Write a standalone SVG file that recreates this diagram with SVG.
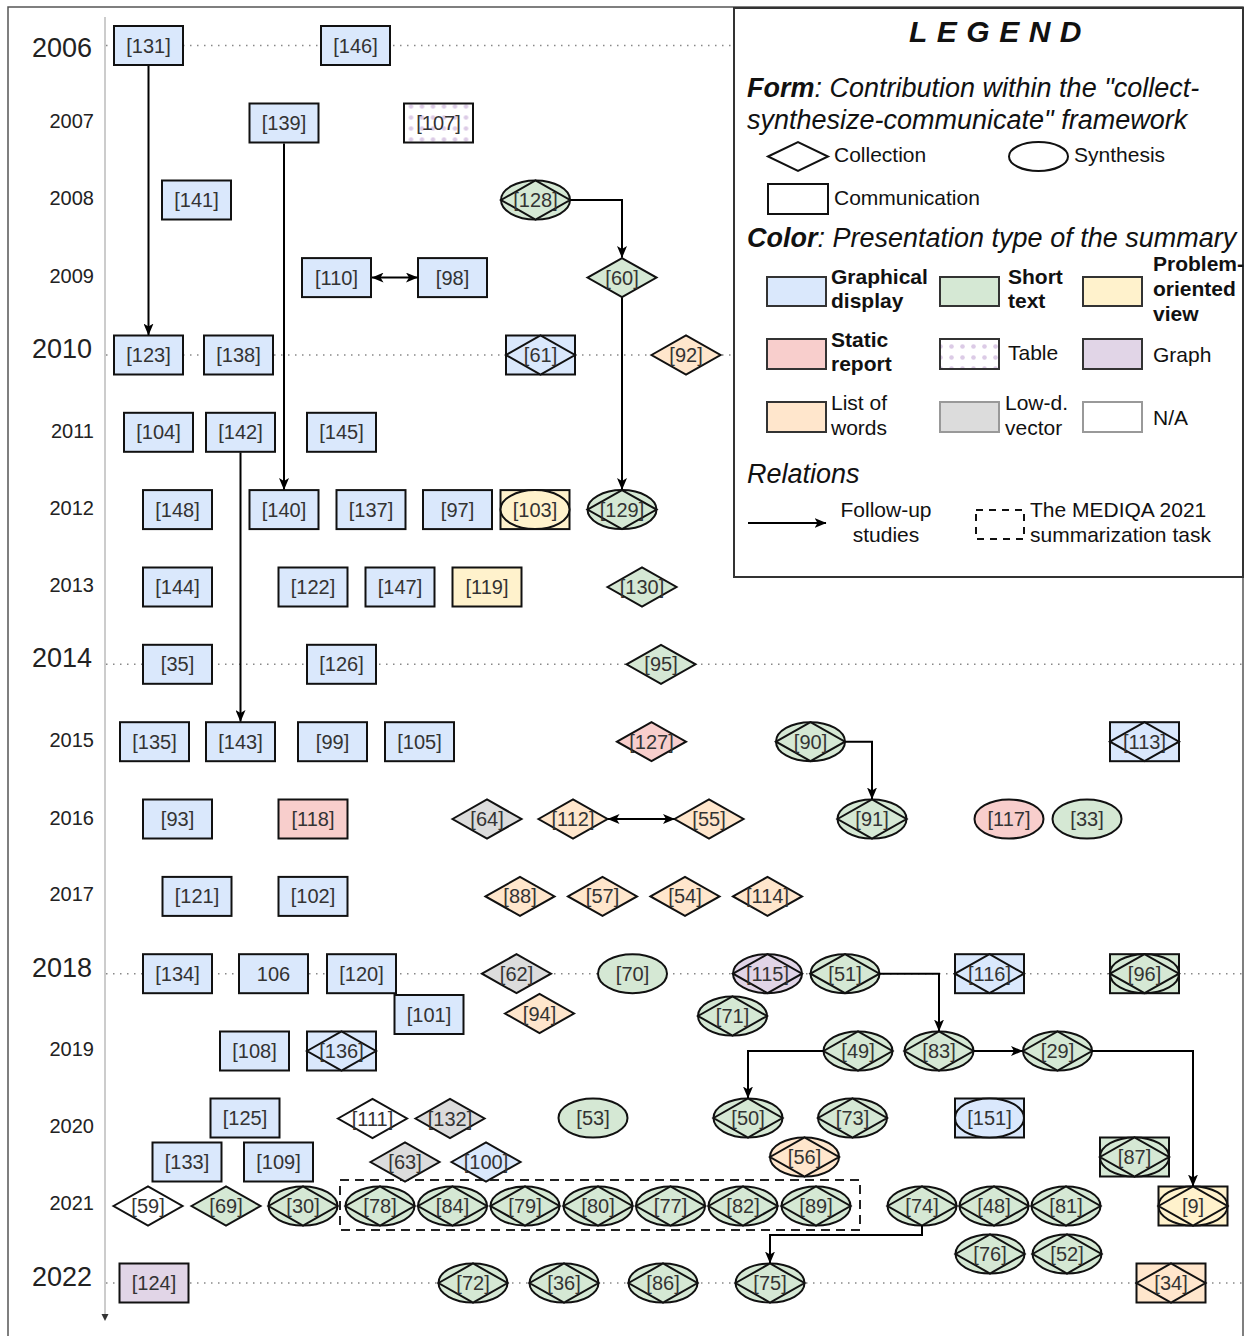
<svg xmlns="http://www.w3.org/2000/svg" width="1246" height="1336" viewBox="0 0 1246 1336">
<style>
.nd use{stroke:#111;stroke-width:2}
.nd text{font-family:"Liberation Sans",Arial,sans-serif;font-size:20px;fill:#333;text-anchor:middle;dominant-baseline:central}
.bl{fill:#dae8fc}.gr{fill:#d5e8d4}.ye{fill:#fff2cc}.rd{fill:#f8cecc}.pu{fill:#e1d5e7}.or{fill:#ffe6cc}.gy{fill:#dcdcdc}.wh{fill:#fff}.tb{fill:url(#dots)}
.yr{font-family:"Liberation Sans",Arial,sans-serif;fill:#222;text-anchor:end;dominant-baseline:central}
.big{font-size:27px}.sm{font-size:20px}
.dot{stroke:#888;stroke-width:1.5;stroke-dasharray:1.5 5.5;fill:none}
.cn{stroke:#000;stroke-width:2;fill:none}
.lg{font-family:"Liberation Sans",Arial,sans-serif;fill:#111;font-size:21px}
.lgb{font-weight:bold}
.lgi{font-style:italic;font-size:27px}
.lgt{font-size:30px;font-weight:bold;font-style:italic;letter-spacing:9.5px}
.sw{stroke:#333;stroke-width:2}
.swl{stroke:#999;stroke-width:2}
</style>
<defs>
<pattern id="dots" width="11" height="11" patternUnits="userSpaceOnUse">
<rect width="11" height="11" fill="#fff"/>
<circle cx="5.5" cy="5.5" r="2.3" fill="#dccbe6"/>
</pattern>
<rect id="R" x="-34.5" y="-19.5" width="69" height="39"/>
<ellipse id="E" cx="0" cy="0" rx="34.5" ry="19.5"/>
<path id="D" d="M-34.5 0 L0 -19.5 L34.5 0 L0 19.5 Z"/>
<marker id="arr" viewBox="0 0 12 10" refX="11.5" refY="5" markerWidth="12" markerHeight="10" markerUnits="userSpaceOnUse" orient="auto-start-reverse">
<path d="M0,0 L12,5 L0,10 L3,5 Z" fill="#000"/>
</marker>
</defs>
<rect x="0" y="0" width="1246" height="1336" fill="#fff"/>
<rect x="8" y="7" width="1235" height="1345" fill="none" stroke="#555" stroke-width="1.5"/>

<g id="axis">
<line x1="105" y1="17" x2="105" y2="1316" stroke="#bbb" stroke-width="1.5"/>
<path d="M101.5,1314 L105,1321 L108.5,1314 Z" fill="#333"/>
<text class="yr big" x="92" y="48">2006</text>
<text class="yr sm" x="94" y="121">2007</text>
<text class="yr sm" x="94" y="198">2008</text>
<text class="yr sm" x="94" y="276">2009</text>
<text class="yr big" x="92" y="349">2010</text>
<text class="yr sm" x="94" y="431">2011</text>
<text class="yr sm" x="94" y="508">2012</text>
<text class="yr sm" x="94" y="585">2013</text>
<text class="yr big" x="92" y="658">2014</text>
<text class="yr sm" x="94" y="740">2015</text>
<text class="yr sm" x="94" y="818">2016</text>
<text class="yr sm" x="94" y="894">2017</text>
<text class="yr big" x="92" y="968">2018</text>
<text class="yr sm" x="94" y="1049">2019</text>
<text class="yr sm" x="94" y="1126">2020</text>
<text class="yr sm" x="94" y="1203">2021</text>
<text class="yr big" x="92" y="1277">2022</text>
<line class="dot" x1="106" y1="45.5" x2="733" y2="45.5"/>
<line class="dot" x1="106" y1="355" x2="733" y2="355"/>
<line class="dot" x1="106" y1="664.3" x2="1243" y2="664.3"/>
<line class="dot" x1="106" y1="973.7" x2="1243" y2="973.7"/>
<line class="dot" x1="106" y1="1283" x2="1243" y2="1283"/>
</g>

<g id="legend">
<rect x="734" y="8" width="509" height="569" fill="#fff" stroke="#333" stroke-width="2"/>
<text class="lg lgt" x="909" y="42">LEGEND</text>
<text class="lg lgi" x="747" y="97"><tspan font-weight="bold">Form</tspan>: Contribution within the "collect-</text>
<text class="lg lgi" x="747" y="129">synthesize-communicate" framework</text>
<path d="M768,156.5 L798,142 L828,156.5 L798,171 Z" fill="#fff" stroke="#111" stroke-width="2"/>
<text class="lg" x="834" y="162">Collection</text>
<ellipse cx="1038.5" cy="156.5" rx="29.5" ry="14.5" fill="#fff" stroke="#111" stroke-width="2"/>
<text class="lg" x="1074" y="162">Synthesis</text>
<rect x="768" y="184" width="60" height="30" fill="#fff" stroke="#111" stroke-width="2"/>
<text class="lg" x="834" y="205">Communication</text>
<text class="lg lgi" x="747" y="247"><tspan font-weight="bold">Color</tspan>: Presentation type of the summary</text>
<rect class="sw" x="767" y="277" width="59" height="29" fill="#dae8fc"/>
<text class="lg lgb" x="831" y="284">Graphical</text>
<text class="lg lgb" x="831" y="308">display</text>
<rect class="sw" x="940" y="277" width="59" height="29" fill="#d5e8d4"/>
<text class="lg lgb" x="1008" y="284">Short</text>
<text class="lg lgb" x="1008" y="308">text</text>
<rect class="sw" x="1083" y="277" width="59" height="29" fill="#fff2cc"/>
<text class="lg lgb" x="1153" y="271">Problem-</text>
<text class="lg lgb" x="1153" y="296">oriented</text>
<text class="lg lgb" x="1153" y="321">view</text>
<rect class="sw" x="767" y="339" width="59" height="30" fill="#f8cecc"/>
<text class="lg lgb" x="831" y="347">Static</text>
<text class="lg lgb" x="831" y="371">report</text>
<rect class="sw" x="940" y="339" width="59" height="30" fill="url(#dots)"/>
<text class="lg" x="1008" y="360">Table</text>
<rect class="sw" x="1083" y="339" width="59" height="30" fill="#e1d5e7"/>
<text class="lg" x="1153" y="362">Graph</text>
<rect class="sw" x="767" y="402" width="59" height="30" fill="#ffe6cc"/>
<text class="lg" x="831" y="410">List of</text>
<text class="lg" x="831" y="435">words</text>
<rect class="swl" x="940" y="402" width="59" height="30" fill="#dcdcdc"/>
<text class="lg" x="1005" y="410">Low-d.</text>
<text class="lg" x="1005" y="435">vector</text>
<rect class="swl" x="1083" y="402" width="59" height="30" fill="#fff"/>
<text class="lg" x="1153" y="425">N/A</text>
<text class="lg lgi" x="747" y="483">Relations</text>
<path class="cn" d="M748,523 H826" marker-end="url(#arr)"/>
<text class="lg" x="886" y="517" text-anchor="middle">Follow-up</text>
<text class="lg" x="886" y="542" text-anchor="middle">studies</text>
<rect x="976" y="510" width="48" height="29" fill="none" stroke="#111" stroke-width="2" stroke-dasharray="7 6"/>
<text class="lg" x="1030" y="517">The MEDIQA 2021</text>
<text class="lg" x="1030" y="542">summarization task</text>
</g>

<g id="mediqa">
<rect x="340" y="1180" width="520" height="50" fill="none" stroke="#222" stroke-width="2" stroke-dasharray="9 6"/>
</g>

<g id="nodes">
<g id="n131" class="nd bl" transform="translate(148.5,45.5)"><use href="#R"/><text>[131]</text></g>
<g id="n146" class="nd bl" transform="translate(355.5,45.5)"><use href="#R"/><text>[146]</text></g>
<g id="n139" class="nd bl" transform="translate(284,123)"><use href="#R"/><text>[139]</text></g>
<g id="n107" class="nd tb" transform="translate(438.5,123)"><use href="#R"/><text>[107]</text></g>
<g id="n141" class="nd bl" transform="translate(196.5,200)"><use href="#R"/><text>[141]</text></g>
<g id="n128" class="nd gr" transform="translate(535.5,200)"><use href="#E"/><use href="#D"/><text>[128]</text></g>
<g id="n110" class="nd bl" transform="translate(336.5,277.6)"><use href="#R"/><text>[110]</text></g>
<g id="n98" class="nd bl" transform="translate(452.5,277.6)"><use href="#R"/><text>[98]</text></g>
<g id="n60" class="nd gr" transform="translate(622,277.6)"><use href="#D"/><text>[60]</text></g>
<g id="n123" class="nd bl" transform="translate(148.5,355)"><use href="#R"/><text>[123]</text></g>
<g id="n138" class="nd bl" transform="translate(238.5,355)"><use href="#R"/><text>[138]</text></g>
<g id="n61" class="nd bl" transform="translate(540.5,355)"><use href="#R"/><use href="#D"/><text>[61]</text></g>
<g id="n92" class="nd or" transform="translate(686,355)"><use href="#D"/><text>[92]</text></g>
<g id="n104" class="nd bl" transform="translate(158.5,432.3)"><use href="#R"/><text>[104]</text></g>
<g id="n142" class="nd bl" transform="translate(240.5,432.3)"><use href="#R"/><text>[142]</text></g>
<g id="n145" class="nd bl" transform="translate(341.5,432.3)"><use href="#R"/><text>[145]</text></g>
<g id="n148" class="nd bl" transform="translate(177.5,509.6)"><use href="#R"/><text>[148]</text></g>
<g id="n140" class="nd bl" transform="translate(284,509.6)"><use href="#R"/><text>[140]</text></g>
<g id="n137" class="nd bl" transform="translate(371,509.6)"><use href="#R"/><text>[137]</text></g>
<g id="n97" class="nd bl" transform="translate(457.5,509.6)"><use href="#R"/><text>[97]</text></g>
<g id="n103" class="nd ye" transform="translate(535,509.6)"><use href="#R"/><use href="#E"/><text>[103]</text></g>
<g id="n129" class="nd gr" transform="translate(622,509.6)"><use href="#E"/><use href="#D"/><text>[129]</text></g>
<g id="n144" class="nd bl" transform="translate(177.5,587)"><use href="#R"/><text>[144]</text></g>
<g id="n122" class="nd bl" transform="translate(313,587)"><use href="#R"/><text>[122]</text></g>
<g id="n147" class="nd bl" transform="translate(400,587)"><use href="#R"/><text>[147]</text></g>
<g id="n119" class="nd ye" transform="translate(487,587)"><use href="#R"/><text>[119]</text></g>
<g id="n130" class="nd gr" transform="translate(642,587)"><use href="#D"/><text>[130]</text></g>
<g id="n35" class="nd bl" transform="translate(177.5,664.3)"><use href="#R"/><text>[35]</text></g>
<g id="n126" class="nd bl" transform="translate(341.5,664.3)"><use href="#R"/><text>[126]</text></g>
<g id="n95" class="nd gr" transform="translate(661,664.3)"><use href="#D"/><text>[95]</text></g>
<g id="n135" class="nd bl" transform="translate(154.5,741.7)"><use href="#R"/><text>[135]</text></g>
<g id="n143" class="nd bl" transform="translate(240.5,741.7)"><use href="#R"/><text>[143]</text></g>
<g id="n99" class="nd bl" transform="translate(332.5,741.7)"><use href="#R"/><text>[99]</text></g>
<g id="n105" class="nd bl" transform="translate(419.5,741.7)"><use href="#R"/><text>[105]</text></g>
<g id="n127" class="nd rd" transform="translate(651.5,741.7)"><use href="#D"/><text>[127]</text></g>
<g id="n90" class="nd gr" transform="translate(810.5,741.7)"><use href="#E"/><use href="#D"/><text>[90]</text></g>
<g id="n113" class="nd bl" transform="translate(1144.5,741.7)"><use href="#R"/><use href="#D"/><text>[113]</text></g>
<g id="n93" class="nd bl" transform="translate(177.5,819)"><use href="#R"/><text>[93]</text></g>
<g id="n118" class="nd rd" transform="translate(313,819)"><use href="#R"/><text>[118]</text></g>
<g id="n64" class="nd gy" transform="translate(487,819)"><use href="#D"/><text>[64]</text></g>
<g id="n112" class="nd or" transform="translate(573,819)"><use href="#D"/><text>[112]</text></g>
<g id="n55" class="nd or" transform="translate(709,819)"><use href="#D"/><text>[55]</text></g>
<g id="n91" class="nd gr" transform="translate(872,819)"><use href="#E"/><use href="#D"/><text>[91]</text></g>
<g id="n117" class="nd rd" transform="translate(1009,819)"><use href="#E"/><text>[117]</text></g>
<g id="n33" class="nd gr" transform="translate(1087,819)"><use href="#E"/><text>[33]</text></g>
<g id="n121" class="nd bl" transform="translate(197,896.4)"><use href="#R"/><text>[121]</text></g>
<g id="n102" class="nd bl" transform="translate(313,896.4)"><use href="#R"/><text>[102]</text></g>
<g id="n88" class="nd or" transform="translate(520,896.4)"><use href="#D"/><text>[88]</text></g>
<g id="n57" class="nd or" transform="translate(602.5,896.4)"><use href="#D"/><text>[57]</text></g>
<g id="n54" class="nd or" transform="translate(685,896.4)"><use href="#D"/><text>[54]</text></g>
<g id="n114" class="nd or" transform="translate(767.5,896.4)"><use href="#D"/><text>[114]</text></g>
<g id="n134" class="nd bl" transform="translate(177.5,973.7)"><use href="#R"/><text>[134]</text></g>
<g id="n106" class="nd bl" transform="translate(273.5,973.7)"><use href="#R"/><text>106</text></g>
<g id="n120" class="nd bl" transform="translate(361.5,973.7)"><use href="#R"/><text>[120]</text></g>
<g id="n62" class="nd gy" transform="translate(516.5,973.7)"><use href="#D"/><text>[62]</text></g>
<g id="n70" class="nd gr" transform="translate(632.5,973.7)"><use href="#E"/><text>[70]</text></g>
<g id="n115" class="nd pu" transform="translate(767.5,973.7)"><use href="#E"/><use href="#D"/><text>[115]</text></g>
<g id="n51" class="nd gr" transform="translate(845,973.7)"><use href="#E"/><use href="#D"/><text>[51]</text></g>
<g id="n116" class="nd bl" transform="translate(989.5,973.7)"><use href="#R"/><use href="#D"/><text>[116]</text></g>
<g id="n96" class="nd gr" transform="translate(1144.5,973.7)"><use href="#R"/><use href="#E"/><use href="#D"/><text>[96]</text></g>
<g id="n101" class="nd bl" transform="translate(429,1014.5)"><use href="#R"/><text>[101]</text></g>
<g id="n94" class="nd or" transform="translate(539.5,1013.5)"><use href="#D"/><text>[94]</text></g>
<g id="n71" class="nd gr" transform="translate(732.5,1016)"><use href="#E"/><use href="#D"/><text>[71]</text></g>
<g id="n108" class="nd bl" transform="translate(254.5,1051)"><use href="#R"/><text>[108]</text></g>
<g id="n136" class="nd bl" transform="translate(341.5,1051)"><use href="#R"/><use href="#D"/><text>[136]</text></g>
<g id="n49" class="nd gr" transform="translate(858,1051)"><use href="#E"/><use href="#D"/><text>[49]</text></g>
<g id="n83" class="nd gr" transform="translate(939,1051)"><use href="#E"/><use href="#D"/><text>[83]</text></g>
<g id="n29" class="nd gr" transform="translate(1057.5,1051)"><use href="#E"/><use href="#D"/><text>[29]</text></g>
<g id="n125" class="nd bl" transform="translate(245,1118)"><use href="#R"/><text>[125]</text></g>
<g id="n111" class="nd wh" transform="translate(372.5,1118.5)"><use href="#D"/><text>[111]</text></g>
<g id="n132" class="nd gy" transform="translate(450,1118.5)"><use href="#D"/><text>[132]</text></g>
<g id="n53" class="nd gr" transform="translate(593,1118)"><use href="#E"/><text>[53]</text></g>
<g id="n50" class="nd gr" transform="translate(748,1118)"><use href="#E"/><use href="#D"/><text>[50]</text></g>
<g id="n73" class="nd gr" transform="translate(852.5,1118)"><use href="#E"/><use href="#D"/><text>[73]</text></g>
<g id="n151" class="nd bl" transform="translate(989.5,1118)"><use href="#R"/><use href="#E"/><text>[151]</text></g>
<g id="n133" class="nd bl" transform="translate(187,1162)"><use href="#R"/><text>[133]</text></g>
<g id="n109" class="nd bl" transform="translate(278.5,1162)"><use href="#R"/><text>[109]</text></g>
<g id="n63" class="nd gy" transform="translate(405,1162)"><use href="#D"/><text>[63]</text></g>
<g id="n100" class="nd bl" transform="translate(486,1162)"><use href="#D"/><text>[100]</text></g>
<g id="n56" class="nd or" transform="translate(804.5,1157)"><use href="#E"/><use href="#D"/><text>[56]</text></g>
<g id="n87" class="nd gr" transform="translate(1134.5,1157)"><use href="#R"/><use href="#E"/><use href="#D"/><text>[87]</text></g>
<g id="n59" class="nd wh" transform="translate(148,1206)"><use href="#D"/><text>[59]</text></g>
<g id="n69" class="nd gr" transform="translate(226,1206)"><use href="#D"/><text>[69]</text></g>
<g id="n30" class="nd gr" transform="translate(303,1206)"><use href="#E"/><use href="#D"/><text>[30]</text></g>
<g id="n78" class="nd gr" transform="translate(380,1206)"><use href="#E"/><use href="#D"/><text>[78]</text></g>
<g id="n84" class="nd gr" transform="translate(452.5,1206)"><use href="#E"/><use href="#D"/><text>[84]</text></g>
<g id="n79" class="nd gr" transform="translate(525,1206)"><use href="#E"/><use href="#D"/><text>[79]</text></g>
<g id="n80" class="nd gr" transform="translate(598,1206)"><use href="#E"/><use href="#D"/><text>[80]</text></g>
<g id="n77" class="nd gr" transform="translate(670.5,1206)"><use href="#E"/><use href="#D"/><text>[77]</text></g>
<g id="n82" class="nd gr" transform="translate(743,1206)"><use href="#E"/><use href="#D"/><text>[82]</text></g>
<g id="n89" class="nd gr" transform="translate(816,1206)"><use href="#E"/><use href="#D"/><text>[89]</text></g>
<g id="n74" class="nd gr" transform="translate(922,1206)"><use href="#E"/><use href="#D"/><text>[74]</text></g>
<g id="n48" class="nd gr" transform="translate(994,1206)"><use href="#E"/><use href="#D"/><text>[48]</text></g>
<g id="n81" class="nd gr" transform="translate(1066,1206)"><use href="#E"/><use href="#D"/><text>[81]</text></g>
<g id="n9" class="nd ye" transform="translate(1193,1206)"><use href="#R"/><use href="#E"/><use href="#D"/><text>[9]</text></g>
<g id="n76" class="nd gr" transform="translate(990,1254)"><use href="#E"/><use href="#D"/><text>[76]</text></g>
<g id="n52" class="nd gr" transform="translate(1067,1254)"><use href="#E"/><use href="#D"/><text>[52]</text></g>
<g id="n124" class="nd pu" transform="translate(154,1283)"><use href="#R"/><text>[124]</text></g>
<g id="n72" class="nd gr" transform="translate(473,1283)"><use href="#E"/><use href="#D"/><text>[72]</text></g>
<g id="n36" class="nd gr" transform="translate(564,1283)"><use href="#E"/><use href="#D"/><text>[36]</text></g>
<g id="n86" class="nd gr" transform="translate(663,1283)"><use href="#E"/><use href="#D"/><text>[86]</text></g>
<g id="n75" class="nd gr" transform="translate(770,1283)"><use href="#E"/><use href="#D"/><text>[75]</text></g>
<g id="n34" class="nd or" transform="translate(1171,1283)"><use href="#R"/><use href="#D"/><text>[34]</text></g>
</g>

<g id="connectors">
<path class="cn" d="M148.5,66 V335" marker-end="url(#arr)"/>
<path class="cn" d="M284,143.5 V489.5" marker-end="url(#arr)"/>
<path class="cn" d="M372,277.6 H417.5" marker-start="url(#arr)" marker-end="url(#arr)"/>
<path class="cn" d="M570.5,200 H622 V257.5" marker-end="url(#arr)"/>
<path class="cn" d="M622,297.5 V489.5" marker-end="url(#arr)"/>
<path class="cn" d="M240.5,452.5 V721.5" stroke-width="1.5" marker-end="url(#arr)"/>
<path class="cn" d="M845.5,741.7 H872 V799" marker-end="url(#arr)"/>
<path class="cn" d="M608,819 H674.5" marker-start="url(#arr)" marker-end="url(#arr)"/>
<path class="cn" d="M879.5,973.7 H939 V1031" marker-end="url(#arr)"/>
<path class="cn" d="M974,1051 H1022.5" marker-end="url(#arr)"/>
<path class="cn" d="M823.5,1051 H748 V1098" marker-end="url(#arr)"/>
<path class="cn" d="M1092,1051 H1193 V1186" marker-end="url(#arr)"/>
<path class="cn" d="M922,1225.5 V1235 H770 V1263" marker-end="url(#arr)"/>
</g>
</svg>
